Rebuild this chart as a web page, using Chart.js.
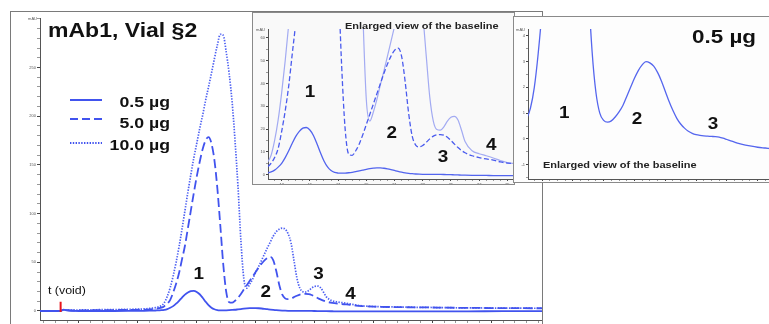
<!DOCTYPE html>
<html>
<head>
<meta charset="utf-8">
<script src="https://cdn.jsdelivr.net/npm/chart.js@4.4.1/dist/chart.umd.min.js"></script>
<style>
  html, body { margin: 0; padding: 0; }
  body { width: 769px; height: 324px; overflow: hidden; background: #fff; position: relative; }
  .frame { position: absolute; box-sizing: border-box; }
  canvas { position: absolute; }
</style>
</head>
<body>
<div class="frame" style="left:10px;top:11px;width:533px;height:330px;border:1px solid #7a7a7a;background:#fff"></div>
<canvas id="mainChart" style="left:11px;top:12px" width="531" height="330"></canvas>
<div class="frame" style="left:252px;top:12px;width:263px;height:173px;border:1px solid #8a8a8a;background:#f9f9f9"></div>
<canvas id="baseChart" style="left:253px;top:13px" width="261" height="171"></canvas>
<div class="frame" style="left:513px;top:16px;width:258px;height:167px;border:1px solid #8a8a8a;background:#fdfdfd"></div>
<canvas id="lowChart" style="left:514px;top:17px" width="256" height="166"></canvas>
<script>
// retention time (min) and absorbance (mAU) for the three injections
const retentionTimes = [
  1.7, 3.0, 3.4, 3.7, 4.0, 4.4, 5, 6.5, 8, 9.5, 10.5, 11, 11.5,
  12, 12.25, 12.5, 12.75, 13, 13.25, 13.5, 13.75, 14, 14.25, 14.5, 14.75,
  15, 15.25, 15.5, 15.75, 16, 16.25, 16.5, 16.75, 17, 17.25, 17.5, 17.75,
  18, 18.25, 18.5, 18.75, 19, 19.25, 19.5, 19.75, 20, 20.25, 20.5, 20.75,
  21, 21.25, 21.5, 21.75, 22, 22.25, 22.5, 22.75, 23, 23.25, 23.5, 23.75,
  24, 24.25, 24.5, 24.75, 25, 25.25, 25.5, 25.75, 26,
  26.5, 27, 27.5, 28, 28.5, 29, 30, 32, 35, 38, 41, 44.3
];
const mab05ug = [
  0, 0, 0.1, 1.3, 0.6, 0.1, 0, 0, 0, 0.1, 0.2, 0.3, 0.5,
  0.8, 1.2, 2.0, 3.3, 5.0, 7.5, 10.5, 13.8, 16.8, 19.0, 20.4, 20.7,
  19.6, 17.2, 13.6, 9.6, 6.0, 3.4, 1.8, 1.0, 0.72, 0.65, 0.7, 0.85,
  1.05, 1.3, 1.65, 2.0, 2.35, 2.65, 2.87, 3.0, 2.95, 2.82, 2.58, 2.25,
  1.85, 1.45, 1.1, 0.8, 0.58, 0.42, 0.3, 0.22, 0.17, 0.14, 0.12, 0.11,
  0.1, 0.09, 0.07, 0.03, -0.02, -0.07, -0.12, -0.17, -0.21,
  -0.27, -0.32, -0.35, -0.38, -0.4, -0.42, -0.45, -0.45, -0.4, -0.3, -0.2, -0.1
];
const mab5ug = [
  0, 0, 0.1, 1.2, 0.8, 0.5, 0.6, 0.8, 1.0, 1.2, 1.4, 1.7, 2.3,
  3.5, 5, 7.5, 11.5, 19, 28, 39, 53, 67, 85, 103, 121,
  138, 153, 166, 175, 178.5, 172, 155, 126, 88, 48, 20, 9,
  8.5, 10.5, 13.5, 17.5, 22, 26.5, 31, 35.5, 40, 44.5, 48.5, 52,
  54.5, 55.5, 52, 41, 27, 17, 13, 12.2, 12.8, 14.2, 15.7, 16.9,
  17.5, 17.6, 17.3, 16.4, 15, 13.4, 11.9, 10.6, 9.6,
  8.3, 7.5, 6.9, 6.4, 5.6, 5.1, 4.5, 4.0, 3.6, 3.2, 3.0, 2.8
];
const mab10ug = [
  0, 0, 0.1, 1.2, 0.9, 0.8, 1.0, 1.3, 1.5, 1.8, 2.1, 2.6, 3.5,
  5.5, 8.5, 15, 24, 36, 50, 66, 84, 103, 122, 140, 157,
  172, 187, 201, 216, 230, 244, 259, 273, 284, 283, 266, 244,
  215, 175, 128, 72, 33, 23.5, 27.5, 33, 39.5, 45.5, 52, 58.5,
  65, 71, 77, 81.5, 84, 85, 84, 79.5, 70, 52, 34, 23.5,
  19.8, 19.5, 21, 23.5, 25.2, 25.6, 24, 19.5, 14.5,
  10.5, 9.2, 8.3, 7.3, 6.2, 5.3, 4.6, 4.1, 3.6, 3.2, 3.0, 2.8
];
const doseLabels = ['0.5 \u00b5g', '5.0 \u00b5g', '10.0 \u00b5g'];
const peakNames = ['1', '2', '3', '4'];

// labelled ticks of each axis
const mainTimeTicks = [5, 10, 15, 20, 25, 30, 35, 40];
const mainAbsTicks = [0, 50, 100, 150, 200, 250];
const zoomTimeTicks = [13, 15, 17, 19, 21, 23, 25, 27, 29];
const zoomAbsTicks = [0, 10, 20, 30, 40, 50, 60];
const lowTimeTicks = [13, 15, 17, 19, 21, 23, 25, 27];
const lowAbsTicks = [-1, 0, 1, 2, 3, 4];

const FONT = '"Liberation Sans", Arial, Helvetica, sans-serif';
const BLUE = '#4153ee';

function points(series) {
  return retentionTimes.map((t, i) => ({ x: t, y: series[i] }));
}

function range(from, to, step) {
  const out = [];
  const n = Math.round((to - from) / step);
  for (let k = 0; k <= n; k++) out.push(Math.round((from + k * step) * 1000) / 1000);
  return out;
}

function makeAxis(o) {
  return {
    type: 'linear',
    min: o.min,
    max: o.max,
    afterBuildTicks: s => { s.ticks = o.minor.map(v => ({ value: v })); },
    afterFit: s => { if (o.width !== undefined) s.width = o.width; if (o.height !== undefined) s.height = o.height; },
    ticks: {
      autoSkip: false, maxRotation: 0, padding: 1,
      font: { size: 4, family: FONT }, color: '#555',
      callback: v => o.major.includes(v) ? String(v) : ''
    },
    grid: {
      drawOnChartArea: false, drawTicks: true, tickLength: o.tick || 2,
      tickColor: c => (c.tick && o.major.includes(c.tick.value)) ? '#444' : '#999'
    },
    border: { color: '#555', width: 1 }
  };
}

function stretched(ctx, text, x, y, size, weight, align, baseline, color, sx) {
  ctx.save();
  ctx.font = weight + ' ' + size + 'px ' + FONT;
  ctx.textAlign = align;
  ctx.textBaseline = baseline;
  ctx.fillStyle = color;
  ctx.translate(x, y);
  ctx.scale(sx, 1);
  ctx.fillText(text, 0, 0);
  ctx.restore();
}

// text, peak numbers and legend drawn over a chart
function notes(items) {
  return {
    id: 'notes',
    afterDraw(chart) {
      const ctx = chart.ctx;
      const { x: xs, y: ys } = chart.scales;
      const area = chart.chartArea;
      stretched(ctx, 'mAU', area.left - 3, area.top + 1, 4, 'normal', 'right', 'middle', '#555', 1);
      items.forEach(it => {
        const px = it.t !== undefined ? xs.getPixelForValue(it.t) : it.px;
        const py = it.v !== undefined ? ys.getPixelForValue(it.v) : it.py;
        if (it.kind === 'text') {
          stretched(ctx, it.text, px, py, it.size, it.weight || 'bold', it.align || 'center',
            it.baseline || 'middle', it.color || '#111', it.sx || 1.18);
        } else if (it.kind === 'key') {
          ctx.save();
          ctx.strokeStyle = BLUE;
          ctx.lineWidth = it.width;
          ctx.setLineDash(it.dash);
          ctx.beginPath();
          ctx.moveTo(px, py);
          ctx.lineTo(px + it.len, py);
          ctx.stroke();
          ctx.restore();
        } else if (it.kind === 'marker') {
          ctx.save();
          ctx.strokeStyle = '#e8141b';
          ctx.lineWidth = 2;
          ctx.beginPath();
          ctx.moveTo(px, ys.getPixelForValue(it.v0));
          ctx.lineTo(px, ys.getPixelForValue(it.v1));
          ctx.stroke();
          ctx.restore();
        }
      });
    }
  };
}

function baseOptions(scales, padding) {
  return {
    responsive: false, animation: false, devicePixelRatio: 1, events: [],
    layout: { padding },
    elements: {
      point: { radius: 0 },
      line: { cubicInterpolationMode: 'monotone', capBezierPoints: false, fill: false }
    },
    plugins: { legend: { display: false }, tooltip: { enabled: false } },
    scales
  };
}

// full chromatogram
new Chart(document.getElementById('mainChart'), {
  type: 'line',
  data: {
    datasets: [
      { label: doseLabels[0], data: points(mab05ug), borderColor: BLUE, borderWidth: 1.8 },
      { label: doseLabels[1], data: points(mab5ug), borderColor: BLUE, borderWidth: 1.8, borderDash: [9, 4] },
      { label: doseLabels[2], data: points(mab10ug), borderColor: '#4d60f2', borderWidth: 1.7, borderDash: [1.4, 1.4] }
    ]
  },
  options: baseOptions({
    x: makeAxis({ min: 1.7, max: 44.3, minor: range(2, 44, 1), major: mainTimeTicks, height: 22, tick: 3 }),
    y: makeAxis({ min: -9.24, max: 300.8, minor: range(0, 300, 10), major: mainAbsTicks, width: 29, tick: 3 })
  }, { top: 6, right: 0, left: 0, bottom: 0 }),
  plugins: [notes([
    { kind: 'text', text: 'mAb1, Vial \u00a72', px: 37, py: 25, size: 19.5, align: 'left', baseline: 'alphabetic' },
    { kind: 'key', px: 59, py: 88, len: 32, width: 2, dash: [] },
    { kind: 'key', px: 59, py: 107, len: 32, width: 2, dash: [8, 4] },
    { kind: 'key', px: 59, py: 131, len: 32, width: 1.8, dash: [1.4, 1.4] },
    { kind: 'text', text: doseLabels[0], px: 159, py: 95.3, size: 15, align: 'right', baseline: 'alphabetic' },
    { kind: 'text', text: doseLabels[1], px: 159, py: 116.3, size: 15, align: 'right', baseline: 'alphabetic' },
    { kind: 'text', text: doseLabels[2], px: 159, py: 138, size: 15, align: 'right', baseline: 'alphabetic' },
    { kind: 'text', text: peakNames[0], t: 15.17, v: 37, size: 16 },
    { kind: 'text', text: peakNames[1], t: 20.85, v: 18.5, size: 16 },
    { kind: 'text', text: peakNames[2], t: 25.34, v: 37, size: 16 },
    { kind: 'text', text: peakNames[3], t: 28.05, v: 16.4, size: 16 },
    { kind: 'text', text: 't (void)', t: 2.37, v: 17.5, size: 11.5, weight: 'normal', align: 'left', baseline: 'alphabetic', sx: 1.08 },
    { kind: 'marker', t: 3.45, v0: -1, v1: 9.5 }
  ])]
});

// baseline enlargement, all three injections
new Chart(document.getElementById('baseChart'), {
  type: 'line',
  data: {
    datasets: [
      { data: points(mab05ug), borderColor: '#5264ee', borderWidth: 1.3, clip: 0 },
      { data: points(mab5ug), borderColor: '#4a5bee', borderWidth: 1.3, borderDash: [5, 2.5], clip: 0 },
      { data: points(mab10ug), borderColor: '#a3abf2', borderWidth: 1.2, clip: 0 }
    ]
  },
  options: baseOptions({
    x: makeAxis({ min: 12.03, max: 29.4, minor: range(12.5, 29, 0.5), major: zoomTimeTicks, height: 5 }),
    y: makeAxis({ min: -1.9, max: 63.9, minor: range(0, 60, 5), major: zoomAbsTicks, width: 15 })
  }, { top: 16, right: 1, left: 0, bottom: 0 }),
  plugins: [notes([
    { kind: 'text', text: 'Enlarged view of the baseline', px: 92, py: 15.7, size: 9.3, align: 'left', baseline: 'alphabetic', color: '#222' },
    { kind: 'text', text: peakNames[0], t: 15.0, v: 35.8, size: 16 },
    { kind: 'text', text: peakNames[1], t: 20.8, v: 17.9, size: 16 },
    { kind: 'text', text: peakNames[2], t: 24.44, v: 7.5, size: 16 },
    { kind: 'text', text: peakNames[3], t: 27.85, v: 12.6, size: 16 }
  ])]
});

// baseline enlargement, lowest load only
new Chart(document.getElementById('lowChart'), {
  type: 'line',
  data: {
    datasets: [
      { data: points(mab05ug), borderColor: '#5566ee', borderWidth: 1.3, clip: 0 }
    ]
  },
  options: baseOptions({
    x: makeAxis({ min: 12.09, max: 27.8, minor: range(12.5, 27.5, 0.5), major: lowTimeTicks, height: 4 }),
    y: makeAxis({ min: -1.55, max: 4.26, minor: range(-1.5, 4, 0.5), major: lowAbsTicks, width: 14 })
  }, { top: 12, right: 0, left: 0, bottom: 0 }),
  plugins: [notes([
    { kind: 'text', text: doseLabels[0], px: 178, py: 25.7, size: 19, align: 'left', baseline: 'alphabetic' },
    { kind: 'text', text: 'Enlarged view of the baseline', px: 29, py: 151.3, size: 9.3, align: 'left', baseline: 'alphabetic', color: '#222' },
    { kind: 'text', text: peakNames[0], t: 14.44, v: 1.0, size: 16 },
    { kind: 'text', text: peakNames[1], t: 19.17, v: 0.77, size: 16 },
    { kind: 'text', text: peakNames[2], t: 24.1, v: 0.54, size: 16 }
  ])]
});
</script>
</body>
</html>
